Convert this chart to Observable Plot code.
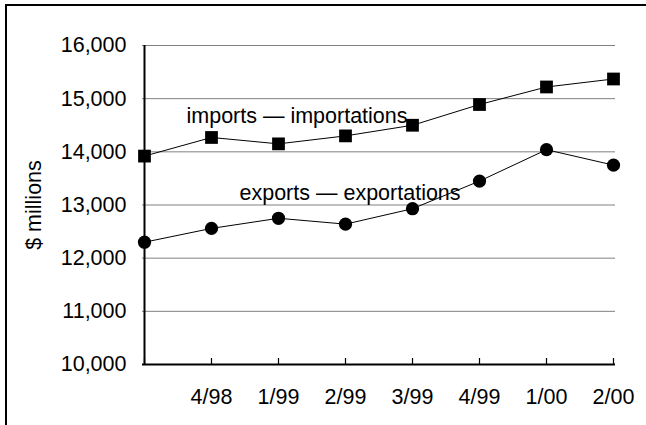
<!DOCTYPE html>
<html><head><meta charset="utf-8">
<script src="https://cdn.jsdelivr.net/npm/d3@7"></script>
<script src="https://cdn.jsdelivr.net/npm/@observablehq/plot@0.6"></script>
<style>
html,body{margin:0;padding:0;background:#fff;}
#wrap{position:relative;width:646px;height:425px;overflow:hidden;}
#border{position:absolute;left:5px;top:4px;right:-10px;bottom:-10px;border-left:2px solid #000;border-top:2px solid #000;pointer-events:none;}
</style></head><body>
<div id="wrap"><div id="chart"></div><div id="border"></div></div>
<script>
const periods = ["3/98","4/98","1/99","2/99","3/99","4/99","1/00","2/00"];
const periodLabels = ["","4/98","1/99","2/99","3/99","4/99","1/00","2/00"];
const importValues = [13920,14270,14150,14300,14500,14890,15220,15370];
const exportValues = [12300,12560,12750,12640,12930,13450,14040,13750];
const yTicks = [10000,11000,12000,13000,14000,15000,16000];
const gridTicks = [11000,12000,13000,14000,15000,16000];
const seriesLabels = ["imports — importations","exports — exportations"];
const yLabel = "$ millions";

const importRows = periods.map((p,i)=>({period:p, value:importValues[i]}));
const exportRows = periods.map((p,i)=>({period:p, value:exportValues[i]}));
const labelFor = new Map(periods.map((p,i)=>[p, periodLabels[i]]));

const W = 646, H = 425, mL = 142, mR = 31, mT = 45, mB = 61;
const font = "'Liberation Sans', Arial, sans-serif";
const fs = 21.5;

const chart = Plot.plot({
  width: W, height: H,
  marginLeft: mL, marginRight: mR, marginTop: mT, marginBottom: mB,
  style: {fontFamily: font, fontSize: fs + "px", color: "#000", background: "#fff", overflow: "visible"},
  x: {type: "point", domain: periods, padding: 0, label: null},
  y: {domain: [10000, 16000], label: null},
  marks: [
    Plot.ruleY(gridTicks, {stroke: "#808080", strokeWidth: 1}),
    Plot.axisY({ticks: yTicks, tickSize: 0, tickPadding: 16, tickFormat: d3.format(","), fontSize: fs, label: null}),
    Plot.axisX({tickSize: 0, tickPadding: 24, tickFormat: d => labelFor.get(d), fontSize: fs, label: null}),
    Plot.ruleX(periods, {x: d => d, insetTop: (H - mT - mB) - 6, stroke: "#000", strokeWidth: 1.2}),
    Plot.ruleY([yTicks[0]], {stroke: "#000", strokeWidth: 2.2}),
    Plot.ruleX([periods[0]], {stroke: "#000", strokeWidth: 2}),
    Plot.line(importRows, {x: "period", y: "value", stroke: "#000", strokeWidth: 1}),
    Plot.line(exportRows, {x: "period", y: "value", stroke: "#000", strokeWidth: 1}),
    Plot.dot(importRows, {x: "period", y: "value", symbol: "square", r: 7.2, fill: "#000", stroke: "none"}),
    Plot.dot(exportRows, {x: "period", y: "value", symbol: "circle", r: 6.6, fill: "#000", stroke: "none"}),
    Plot.text([seriesLabels[0]], {x: () => periods[0], y: () => 14533, text: d => d, textAnchor: "start", lineAnchor: "bottom", dx: 42, fontSize: fs, fill: "#000"}),
    Plot.text([seriesLabels[1]], {x: () => periods[1], y: () => 13094, text: d => d, textAnchor: "start", lineAnchor: "bottom", dx: 28, fontSize: fs, fill: "#000"}),
    Plot.text([yLabel], {frameAnchor: "left", text: d => d, rotate: -90, dx: -108, textAnchor: "middle", lineAnchor: "middle", fontSize: fs, fill: "#000"})
  ]
});
document.getElementById("chart").appendChild(chart);
</script>
</body></html>
